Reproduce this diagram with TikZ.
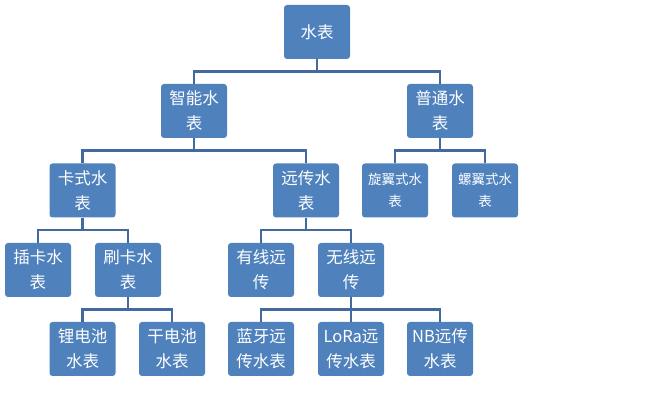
\documentclass[tikz,border=0pt]{standalone}
\usepackage{fontspec}
\newfontfamily\cjk{Noto Sans CJK SC}
\definecolor{boxblue}{RGB}{79,129,189}
\definecolor{linkblue}{RGB}{66,106,158}
\begin{document}
\begin{tikzpicture}[x=1pt,y=-1pt]

    \tikzset{
      meter/.style={
        rectangle,
        rounded corners=3pt,
        fill=boxblue,
        text=white,
        inner sep=0pt,
        minimum width=66pt,
        minimum height=54pt,
        align=center,
        font=\cjk\fontsize{16.5}{25}\selectfont,
      },
      small/.style={font=\cjk\fontsize{13.5}{22}\selectfont},
      link/.style={draw=linkblue, line width=2.6pt},
    }
    \useasboundingbox (0,0) rectangle (646,406);

    % levels
    \node[meter] (root) at (317,32) {水表};
    \node[meter] (smart) at (194,111) {智能水\\表};
    \node[meter] (plain) at (440,111) {普通水\\表};
    \node[meter] (card) at (82.5,190.5) {卡式水\\表};
    \node[meter] (remote) at (306,190.5) {远传水\\表};
    \node[meter,small] (rotary) at (395,190.5) {旋翼式水\\表};
    \node[meter,small] (screw) at (485,190.5) {螺翼式水\\表};
    \node[meter] (insert) at (38,270) {插卡水\\表};
    \node[meter] (swipe) at (128,270) {刷卡水\\表};
    \node[meter] (wired) at (261,270) {有线远\\传};
    \node[meter] (wireless) at (351,270) {无线远\\传};
    \node[meter] (lithium) at (82.5,349) {锂电池\\水表};
    \node[meter] (dry) at (172,349) {干电池\\水表};
    \node[meter] (bt) at (261,349) {蓝牙远\\传水表};
    \node[meter] (lora) at (351,349) {LoRa远\\传水表};
    \node[meter] (nb) at (440,349) {NB远传\\水表};

    % tree lines
    \foreach \a/\b in {root/smart,root/plain,smart/card,smart/remote,
      plain/rotary,plain/screw,card/insert,card/swipe,remote/wired,
      remote/wireless,swipe/lithium,swipe/dry,wireless/bt,wireless/lora,
      wireless/nb}
      \draw[link] (\a.south) -- ++(0,12.5) -| (\b.north);

\end{tikzpicture}
\end{document}
